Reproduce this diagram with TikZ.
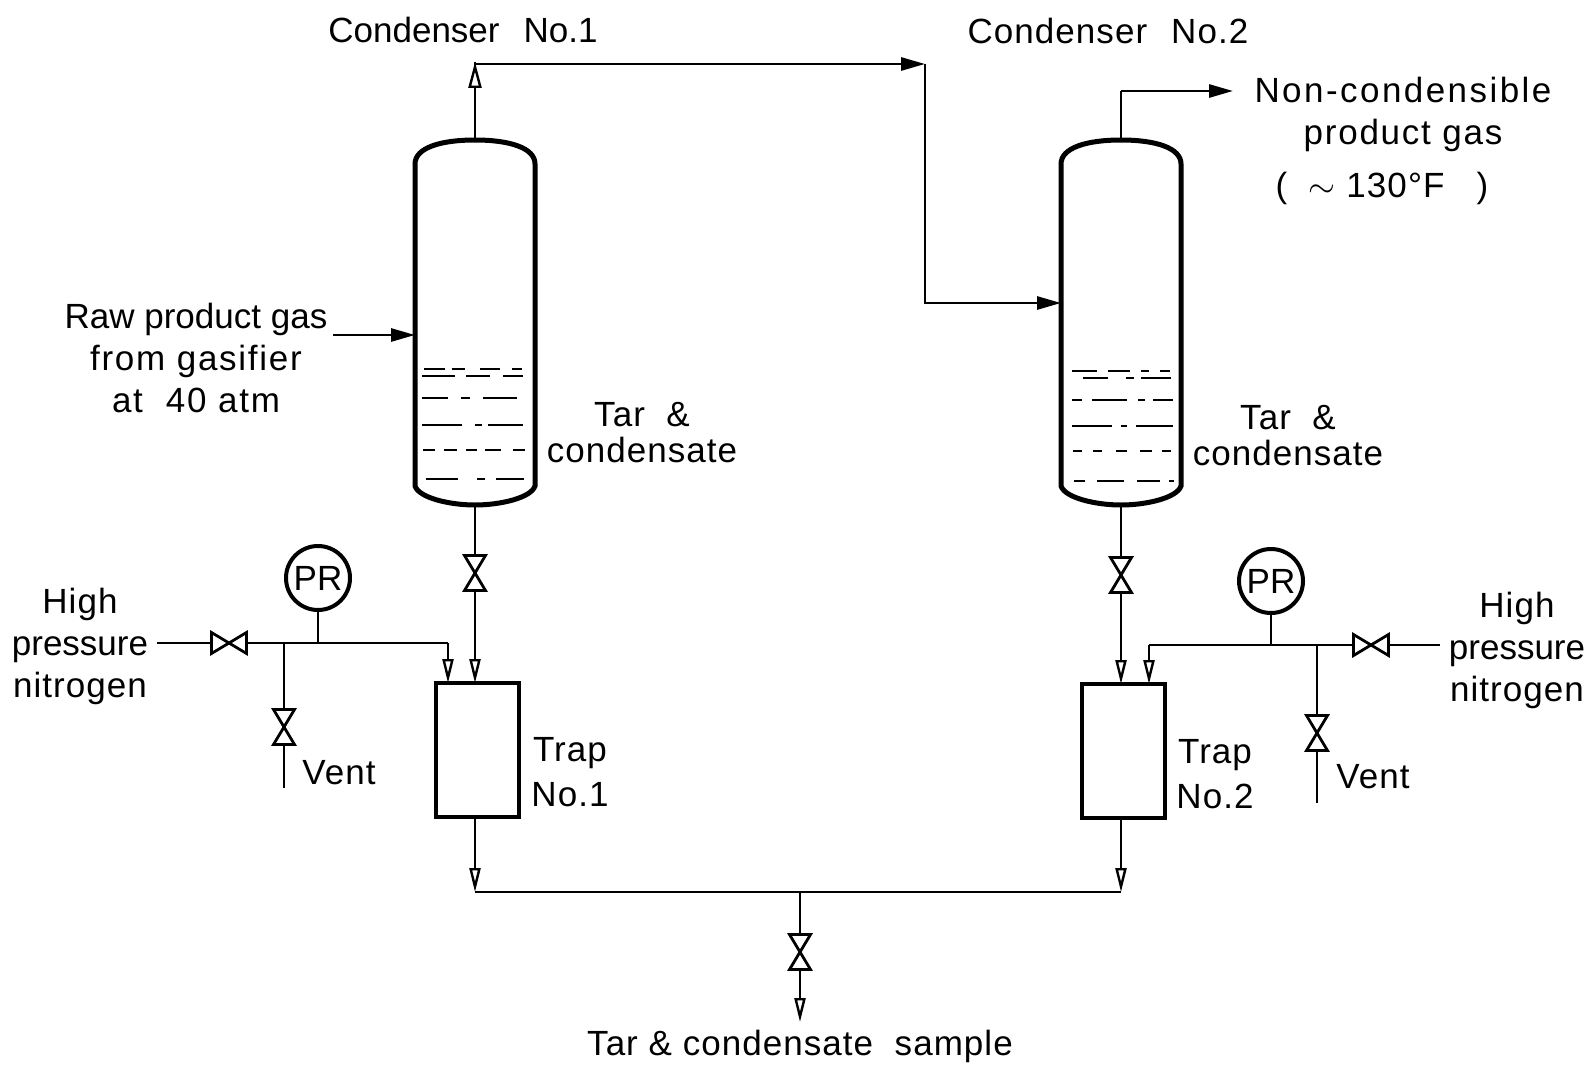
\documentclass[tikz,border=0pt]{standalone}
\usepackage{fontspec}
\setmainfont{Liberation Sans}
\newfontfamily\widefont[LetterSpace=3]{Liberation Sans}
\newfontfamily\widerfont[LetterSpace=5]{Liberation Sans}
\newfontfamily\widestfont[LetterSpace=7]{Liberation Sans}
\usetikzlibrary{arrows.meta}
\tikzset{
    pipe/.style={line width=1.4pt, line join=miter},
    flowfill/.style={pipe, -{Triangle[length=12pt, width=6.5pt]}},
    flowopen/.style={pipe, -{Triangle[open, fill=white, length=13pt, width=6.5pt, line width=1.2pt]}},
    flowtrap/.style={pipe, -{Triangle[open, fill=white, length=12pt, width=5.5pt, line width=1.2pt]}},
    liquid/.style={line width=1.3pt},
    valvev/.style={inner sep=0pt, outer sep=0pt, minimum width=10.5pt, minimum height=17.5pt},
    valveh/.style={inner sep=0pt, outer sep=0pt, minimum width=17.5pt, minimum height=10.5pt},
    valveline/.style={line width=1.4pt, line join=miter},
    trapbox/.style={draw, line width=2.1pt, inner sep=0pt, outer sep=0pt, minimum width=41.5pt, minimum height=67pt},
    gauge/.style={circle, draw, line width=2pt, inner sep=0pt, outer sep=0pt, minimum size=32pt, font=\fontsize{17.5}{20}\selectfont},
    lbl/.style={inner sep=0pt, align=center, font=\widefont\fontsize{17.5}{21}\selectfont},
    vessel/.pic={
        \draw[line width=2.5pt] (-60,24) .. controls (-60,8) and (-35,0) .. (0,0) .. controls (35,0) and (60,8) .. (60,24)
            -- (60,346) .. controls (56,358) and (25,365) .. (0,365) .. controls (-25,365) and (-56,358) .. (-60,346) -- cycle;
        \coordinate (-top) at (0,0);
        \coordinate (-bot) at (0,365);
    }
}
\begin{document}
\begin{tikzpicture}[x=0.5pt, y=-0.5pt]
                    \useasboundingbox (0,0) rectangle (1594,1065);

                    \pic (cond1) at (475,140) {vessel};
                    \pic (cond2) at (1121,140) {vessel};

                    \foreach \xa/\xb/\yy in {424/445/369, 452/465/369, 480/500/369, 512/522/369, 422/455/376, 466/490/376, 503/523/376,
                        422/448/398, 461/470/398, 483/517/398, 422/462/425, 475/482/425, 488/523/425,
                        423/435/450, 444/457/450, 466/477/450, 485/501/450, 513/525/450, 426/458/479, 477/485/479, 496/524/479,
                        1072/1097/371, 1108/1130/371, 1141/1149/371, 1160/1170/371, 1083/1108/378, 1126/1134/378, 1141/1171/378,
                        1072/1082/400, 1092/1127/400, 1138/1145/400, 1153/1173/400, 1072/1112/426, 1121/1127/426, 1136/1173/426,
                        1073/1082/451, 1093/1102/451, 1116/1127/451, 1140/1152/451, 1162/1171/451,
                        1074/1085/481, 1097/1124/481, 1137/1160/481, 1169/1174/481}
                        \draw[liquid] (\xa,\yy) -- (\xb,\yy);

                    \node[trapbox] (trap1) at (477.5,750) {};
                    \node[trapbox] (trap2) at (1123.5,751) {};
                    \node[gauge] (pr1) at (318,578) {PR};
                    \node[gauge] (pr2) at (1271,581) {PR};

                    \node[valvev] (v1) at (475,573) {};
                    \node[valvev] (v2) at (1121,575) {};
                    \node[valvev] (v3) at (284,727) {};
                    \node[valvev] (v4) at (1317,733) {};
                    \node[valvev] (v5) at (800,952) {};
                    \node[valveh] (v6) at (229,643) {};
                    \node[valveh] (v7) at (1371,645) {};

                    \foreach \v in {v1,v2,v3,v4,v5}
                        \draw[valveline] (\v.north west) -- (\v.south east) -- (\v.south west) -- (\v.north east) -- cycle;
                    \foreach \v in {v6,v7}
                        \draw[valveline] (\v.north west) -- (\v.south east) -- (\v.north east) -- (\v.south west) -- cycle;

                    \coordinate (out1) at (475,62);
                    \coordinate (turn1) at (925,64);
                    \coordinate (turn2) at (925,303);
                    \coordinate (in2) at (1061,303);
                    \coordinate (out2) at (1121,91);
                    \coordinate (gasend) at (1233,91);
                    \coordinate (raw) at (333,335);
                    \coordinate (in1) at (415,335);
                    \coordinate (hp1) at (157,643);
                    \coordinate (hp2) at (1440,645);
                    \coordinate (tee1) at (284,643);
                    \coordinate (tee2) at (318,643);
                    \coordinate (tee3) at (1317,645);
                    \coordinate (tee4) at (1271,645);
                    \coordinate (bend1) at (448,643);
                    \coordinate (bend2) at (1149,645);
                    \coordinate (top1) at (475,683);
                    \coordinate (top2) at (1121,684);
                    \coordinate (top3) at (448,683);
                    \coordinate (top4) at (1149,684);
                    \coordinate (vent1) at (284,788);
                    \coordinate (vent2) at (1317,803);
                    \coordinate (join1) at (475,892);
                    \coordinate (join2) at (1121,892);
                    \coordinate (join3) at (800,892);
                    \coordinate (sample) at (800,1022);

                    \draw[flowopen] (cond1-top) -- (out1);
                    \draw[pipe] (out1) -- (475,64) -- (900,64);
                    \draw[flowfill] (900,64) -- (turn1);
                    \draw[pipe] (turn1) -- (turn2) -- (1037,303);
                    \draw[flowfill] (1037,303) -- (in2);
                    \draw[pipe] (cond2-top) -- (out2);
                    \draw[flowfill] (out2) -- (gasend);
                    \draw[flowfill] (raw) -- (in1);
                    \draw[pipe] (cond1-bot) -- (v1.north);
                    \draw[pipe] (cond2-bot) -- (v2.north);
                    \draw[flowtrap] (v1.south) -- (top1);
                    \draw[flowtrap] (v2.south) -- (top2);
                    \draw[pipe] (hp1) -- (v6.west);
                    \draw[pipe] (hp2) -- (v7.east);
                    \draw[pipe] (v6.east) -- (bend1);
                    \draw[pipe] (v7.west) -- (bend2);
                    \draw[flowtrap] (bend1) -- (top3);
                    \draw[flowtrap] (bend2) -- (top4);
                    \draw[pipe] (pr1) -- (tee2);
                    \draw[pipe] (pr2) -- (tee4);
                    \draw[pipe] (tee1) -- (v3.north);
                    \draw[pipe] (tee3) -- (v4.north);
                    \draw[pipe] (v3.south) -- (vent1);
                    \draw[pipe] (v4.south) -- (vent2);
                    \draw[flowtrap] (trap1.south -| join1) -- (join1);
                    \draw[flowtrap] (trap2.south -| join2) -- (join2);
                    \draw[pipe] (join1) -- (join2);
                    \draw[pipe] (join3) -- (v5.north);
                    \draw[flowtrap] (v5.south) -- (sample);

                    \node[lbl] (tcond1) at (463,30) {\rmfamily Condenser\hspace{12pt}No.1};
                    \node[lbl] (tcond2) at (1108,31) {Condenser\hspace{12pt}No.2};
                    \node[lbl] (tgas) at (1403,114) {{\widestfont Non-condensible}\\{\widerfont product gas}};
                    \node[lbl] (ttemp) at (1382,188) {(\ \ $\sim$ 130°F\ \ \ )};
                    \node[lbl] (traw) at (196,358) {{\rmfamily Raw product gas}\\{\widerfont from gasifier}\\{\widerfont at\ \ 40 atm}};
                    \node[lbl] (ttar1) at (642,433) {Tar\ \ \&\\[-3pt]condensate};
                    \node[lbl] (ttar2) at (1288,436) {Tar\ \ \&\\[-3pt]condensate};
                    \node[lbl] (thp1) at (80,646) {High\\{\rmfamily pressure}\\nitrogen};
                    \node[lbl] (thp2) at (1517,650) {High\\{\rmfamily pressure}\\nitrogen};
                    \node[lbl] (tvent1) at (339,773) {Vent};
                    \node[lbl] (tvent2) at (1373,777) {Vent};
                    \node[lbl] (ttrap1) at (570,772) {Trap\\[1.5pt]No.1};
                    \node[lbl] (ttrap2) at (1215,774) {Trap\\[1.5pt]No.2};
                    \node[lbl] (tsample) at (800,1046) {Tar \& condensate\ \ sample};
                \end{tikzpicture}
\end{document}
